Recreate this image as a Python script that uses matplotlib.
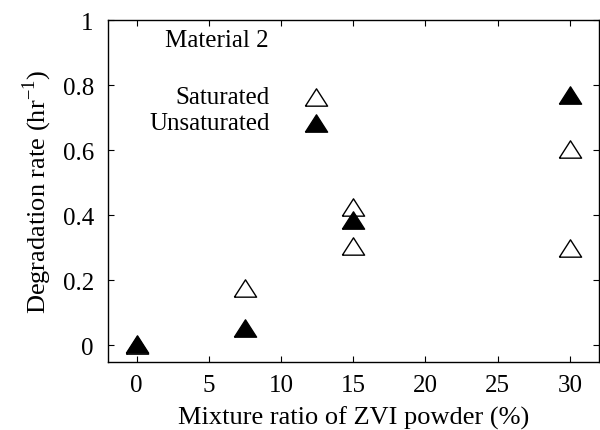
import matplotlib
matplotlib.use("Agg")
import matplotlib.pyplot as plt

plt.rcParams['font.family'] = ['Liberation Serif', 'DejaVu Serif']
plt.rcParams['mathtext.fontset'] = 'custom'
plt.rcParams['mathtext.rm'] = 'Liberation Serif'

# saturated (open triangles)
sat_x = [0, 7.5, 15, 15, 30, 30]
sat_y = [0.0, 0.175, 0.425, 0.305, 0.605, 0.30]
# unsaturated (filled triangles)
uns_x = [0, 7.5, 15, 30]
uns_y = [0.005, 0.055, 0.385, 0.77]

tri = [(-1, -0.78), (1, -0.78), (0, 0.78), (-1, -0.78)]

fig = plt.figure(figsize=(6, 4.31), dpi=100)
ax = fig.add_axes([0.1795, 0.1585, 0.8185, 0.7925])

ax.plot(sat_x, sat_y, linestyle='none', marker=tri, ms=16, mfc='white', mec='black', mew=1.0)
ax.plot(uns_x, uns_y, linestyle='none', marker=tri, ms=16, mfc='black', mec='black', mew=1.0)

# legend drawn as in the original (text right-aligned, marker to the right)
ax.text(9.2, 0.765, "Saturated", ha='right', va='center', fontsize=18)
ax.text(9.2, 0.685, "Unsaturated", ha='right', va='center', fontsize=18)
ax.plot([12.4], [0.765], linestyle='none', marker=tri, ms=16, mfc='white', mec='black', mew=1.0)
ax.plot([12.4], [0.685], linestyle='none', marker=tri, ms=16, mfc='black', mec='black', mew=1.0)

ax.text(2.0, 0.94, "Material 2", ha='left', va='center', fontsize=18)

ax.set_xlim(-2, 32)
ax.set_ylim(-0.05, 1)
ax.set_xticks([0, 5, 10, 15, 20, 25, 30])
ax.set_yticks([0, 0.2, 0.4, 0.6, 0.8, 1])
ax.set_yticklabels(['0', '0.2', '0.4', '0.6', '0.8', '1'])
ax.tick_params(direction='in', top=True, right=True, length=4, width=0.8, labelsize=18)
ax.tick_params(axis='y', pad=10)
ax.tick_params(axis='x', pad=9)
for s in ax.spines.values():
    s.set_linewidth(1.0)

ax.set_xlabel("Mixture ratio of ZVI powder (%)", fontsize=19, labelpad=7)
ax.set_ylabel("Degradation rate (hr$^{-1}$)", fontsize=19, labelpad=6)

fig.savefig("out.png", dpi=100)
